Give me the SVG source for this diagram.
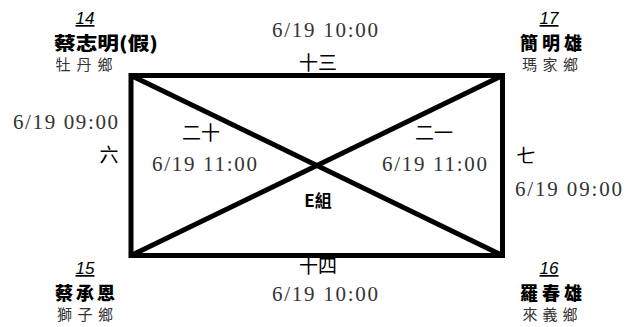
<svg xmlns="http://www.w3.org/2000/svg" width="633" height="327" viewBox="0 0 633 327">
<style>
.num{font-family:"Liberation Sans",Arial,sans-serif;font-style:italic;font-size:17px;text-decoration:underline;fill:#000;text-anchor:middle}
.name{font-family:"Noto Sans CJK TC","Noto Sans CJK SC",sans-serif;font-weight:900;font-size:18px;fill:#000;text-anchor:middle}
.loc{font-family:"Noto Sans CJK TC","Noto Sans CJK SC",sans-serif;font-size:15px;fill:#333;text-anchor:middle}
.date{font-family:"Liberation Serif","Times New Roman",serif;font-size:21px;fill:#333}
.cn{font-family:"Noto Sans CJK TC","Noto Sans CJK SC",sans-serif;font-size:19px;fill:#000;text-anchor:middle}
.grp{font-family:"Noto Sans CJK TC","Noto Sans CJK SC",sans-serif;font-weight:700;font-size:17px;fill:#000;text-anchor:middle}
.edge{stroke:#000;stroke-width:5;fill:none}
</style>
<rect width="633" height="327" fill="#fff"/>
<g id="connectors">
<rect class="edge" x="131" y="75.5" width="371.5" height="180"/>
<line class="edge" x1="131" y1="75.5" x2="502.5" y2="255.5" stroke-width="4.5"/>
<line class="edge" x1="131" y1="255.5" x2="502.5" y2="75.5" stroke-width="4.5"/>
</g>
<g id="edge-labels">
<text class="date" x="272" y="37" textLength="106" lengthAdjust="spacing">6/19 10:00</text>
<text class="cn" x="318" y="70" font-size="20">十三</text>
<text class="date" x="272" y="301" textLength="106" lengthAdjust="spacing">6/19 10:00</text>
<text class="cn" x="318" y="273" font-size="20">十四</text>
<text class="date" x="13" y="129" textLength="105" lengthAdjust="spacing">6/19 09:00</text>
<text class="cn" x="109" y="162">六</text>
<text class="date" x="515" y="196" textLength="107" lengthAdjust="spacing">6/19 09:00</text>
<text class="cn" x="526" y="163">七</text>
<text class="cn" x="201" y="140">二十</text>
<text class="date" x="152" y="171" textLength="105" lengthAdjust="spacing">6/19 11:00</text>
<text class="cn" x="434" y="140">二一</text>
<text class="date" x="382" y="171" textLength="105" lengthAdjust="spacing">6/19 11:00</text>
<text class="grp" x="318" y="207">E組</text>
</g>
<g id="node-14">
<text class="num" x="85" y="24">14</text>
<text class="name" x="106" y="50" textLength="104" lengthAdjust="spacingAndGlyphs">蔡志明(假)</text>
<text class="loc" x="84" y="70" textLength="57" lengthAdjust="spacing">牡丹鄉</text>
</g>
<g id="node-17">
<text class="num" x="549" y="24">17</text>
<text class="name" x="551" y="50" textLength="62" lengthAdjust="spacing">簡明雄</text>
<text class="loc" x="550" y="70" textLength="56" lengthAdjust="spacing">瑪家鄉</text>
</g>
<g id="node-15">
<text class="num" x="85" y="274">15</text>
<text class="name" x="85" y="300" textLength="60" lengthAdjust="spacing">蔡承恩</text>
<text class="loc" x="85" y="320" textLength="56" lengthAdjust="spacing">獅子鄉</text>
</g>
<g id="node-16">
<text class="num" x="549" y="274">16</text>
<text class="name" x="551" y="300" textLength="62" lengthAdjust="spacing">羅春雄</text>
<text class="loc" x="550" y="320" textLength="55" lengthAdjust="spacing">來義鄉</text>
</g>
</svg>
